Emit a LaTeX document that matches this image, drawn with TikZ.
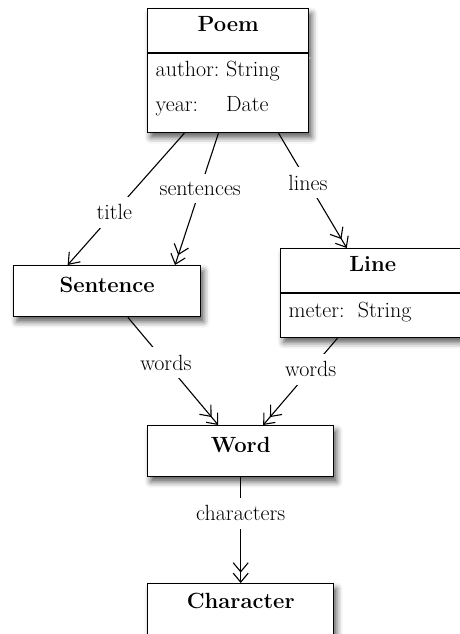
\documentclass[tikz,border=0pt]{standalone}
\usetikzlibrary{arrows.meta,calc,shapes.multipart,shadows.blur}
\newcommand{\clshead}[1]{\rule[-21pt]{0pt}{43pt}\textbf{#1}}
\newcommand{\clsbox}[1]{\rule[-24pt]{0pt}{51pt}\textbf{#1}}
\tikzset{
  classbox/.style={draw, line width=1.4pt, fill=white, anchor=north west,
    inner ysep=0pt, inner xsep=8pt,
    blur shadow={shadow xshift=3pt, shadow yshift=-5pt, shadow blur radius=6pt, shadow opacity=65}},
  classsplit/.style={classbox, rectangle split, rectangle split parts=2,
    rectangle split part align={center,left}},
  lbl/.style={fill=white, inner xsep=4pt, inner ysep=8pt},
  one/.style={line width=1.1pt, -{Straight Barb[length=10pt,width=15pt,line width=1.1pt]}},
  many/.style={line width=1.1pt, -{Straight Barb[length=9pt,width=15pt,line width=1.1pt] Straight Barb[length=9pt,width=15pt,line width=1.1pt]}}
}
\begin{document}
\begin{tikzpicture}[x=1pt, y=-1pt, font=\fontsize{22}{26}\selectfont]
  \path[use as bounding box, clip] (0,0) rectangle (460,634);
  % classes
  \node[classsplit, minimum width=161pt] (poem) at (147,8) {\clshead{Poem}
    \nodepart{second}\begin{tabular}{@{}l@{\ }l@{}}
      \rule[-12pt]{0pt}{35pt}author: & String\\
      \rule[-20pt]{0pt}{43pt}year: & Date
    \end{tabular}};
  \node[classbox, minimum width=187pt] (sentence) at (13,265) {\clsbox{Sentence}};
  \node[classsplit, minimum width=184pt] (line) at (280,248) {\clshead{Line}
    \nodepart{second}\rule[-19pt]{0pt}{43pt}meter:\ \ String};
  \node[classbox, minimum width=186pt] (word) at (147,425) {\clsbox{Word}};
  \node[classbox, minimum width=186pt] (character) at (147,583) {\rule[-26pt]{0pt}{51pt}\textbf{Character}};
  % associations
  \draw[one] ($(poem.south west)!.23!(poem.south east)$) -- node[lbl, pos=.6] {title}
    ($(sentence.north west)!.29!(sentence.north east)$);
  \draw[many] ($(poem.south west)!.44!(poem.south east)$) -- node[lbl, pos=.42] {sentences}
    ($(sentence.north west)!.86!(sentence.north east)$);
  \draw[many] ($(poem.south west)!.81!(poem.south east)$) -- node[lbl, pos=.43] {lines}
    ($(line.north west)!.36!(line.north east)$);
  \draw[many] ($(sentence.south west)!.61!(sentence.south east)$) -- node[lbl, pos=.42] {words}
    ($(word.north west)!.38!(word.north east)$);
  \draw[many] ($(line.south west)!.31!(line.south east)$) -- node[lbl, pos=.36] {words}
    ($(word.north west)!.62!(word.north east)$);
  \draw[many] (word) -- node[lbl, pos=.34] {characters} (character);
\end{tikzpicture}
\end{document}
